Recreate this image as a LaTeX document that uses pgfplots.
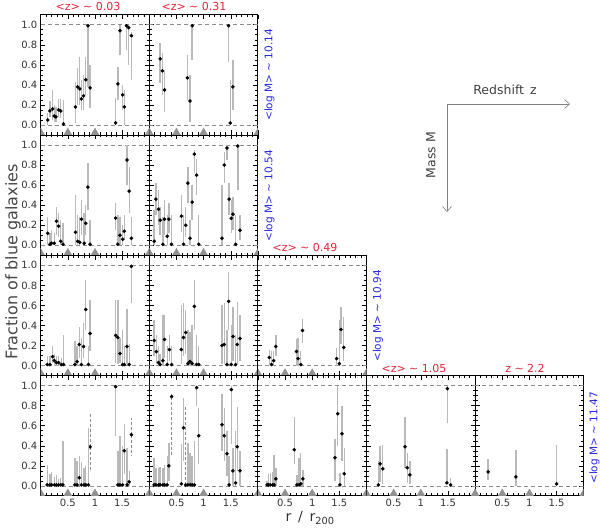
\documentclass[border=0pt]{standalone}
\usepackage{fontspec}
\setmainfont{DejaVu Sans}
\usepackage{pgfplots}
\usepackage{pgfplotstable}
\pgfplotsset{compat=1.18}
\usetikzlibrary{arrows.meta}

\definecolor{barg}{RGB}{185,185,185}
\definecolor{dashg}{RGB}{140,140,140}
\definecolor{trig}{RGB}{145,145,145}
\definecolor{zred}{RGB}{225,35,55}
\definecolor{mblue}{RGB}{40,40,225}

% ---------------- data: x, fraction, lower, upper ----------------
\pgfplotstableread{
x y lo hi
0.13 0.05 0.00 0.12
0.17 0.14 0.08 0.24
0.22 0.16 0.05 0.35
0.25 0.09 0.03 0.20
0.28 0.08 0.03 0.18
0.33 0.15 0.08 0.26
0.37 0.14 0.07 0.26
0.42 0.01 0.00 0.25
0.64 0.18 0.02 0.43
0.68 0.38 0.20 0.57
0.72 0.36 0.20 0.68
0.75 0.26 0.15 0.45
0.79 0.29 0.15 0.50
0.83 0.45 0.30 0.68
0.87 0.99 0.38 1.00
0.91 0.37 0.17 0.60
1.38 0.02 0.00 0.27
1.42 0.41 0.25 0.58
1.46 0.94 0.70 1.00
1.51 0.30 0.15 0.40
1.54 0.18 0.00 0.35
1.58 0.99 0.75 1.00
1.62 0.97 0.60 1.00
1.67 0.89 0.45 0.93
}\tAA
\pgfplotstableread{
x y lo hi
0.20 0.66 0.42 0.82
0.24 0.54 0.30 0.72
0.28 0.35 0.13 0.55
0.70 0.47 0.25 0.70
0.75 0.24 0.03 0.50
0.79 0.99 0.65 1.00
1.46 0.99 0.63 1.00
1.49 0.02 0.00 0.45
1.54 0.38 0.15 0.65
}\tAB
\pgfplotstableread{
x y lo hi
0.13 0.12 0.00 0.28
0.17 0.01 0.00 0.12
0.20 0.02 0.00 0.15
0.25 0.02 0.00 0.12
0.29 0.24 0.10 0.38
0.33 0.19 0.08 0.32
0.37 0.04 0.00 0.25
0.41 0.01 0.00 0.22
0.64 0.13 0.00 0.50
0.68 0.04 0.00 0.30
0.72 0.03 0.00 0.28
0.75 0.26 0.10 0.45
0.80 0.02 0.00 0.32
0.83 0.22 0.10 0.40
0.87 0.58 0.35 0.82
0.91 0.01 0.00 0.25
1.38 0.27 0.15 0.42
1.42 0.01 0.00 0.30
1.46 0.10 0.00 0.28
1.51 0.06 0.00 0.20
1.54 0.14 0.05 0.30
1.59 0.85 0.60 1.00
1.63 0.54 0.32 0.78
1.67 0.07 0.00 0.28
}\tBA
\pgfplotstableread{
x y lo hi
0.09 0.04 0.00 0.35
0.12 0.46 0.30 0.62
0.17 0.36 0.20 0.55
0.20 0.25 0.10 0.38
0.25 0.01 0.00 0.28
0.28 0.26 0.10 0.45
0.33 0.09 0.00 0.30
0.36 0.26 0.12 0.42
0.41 0.01 0.00 0.30
0.59 0.29 0.13 0.50
0.63 0.01 0.00 0.30
0.67 0.20 0.08 0.38
0.71 0.62 0.42 0.78
0.75 0.07 0.00 0.25
0.79 0.43 0.25 0.60
0.83 0.91 0.72 0.95
0.87 0.70 0.50 0.86
0.91 0.01 0.00 0.30
1.34 0.07 0.00 0.60
1.38 0.80 0.62 0.93
1.43 0.97 0.85 1.00
1.47 0.46 0.30 0.62
1.51 0.27 0.12 0.45
1.54 0.31 0.15 0.48
1.59 0.01 0.00 0.30
1.63 0.99 0.55 1.00
1.67 0.15 0.05 0.30
}\tBB
\pgfplotstableread{
x y lo hi
0.12 0.01 0.00 0.10
0.17 0.01 0.00 0.10
0.22 0.09 0.03 0.20
0.25 0.05 0.00 0.12
0.29 0.03 0.00 0.10
0.33 0.03 0.00 0.10
0.38 0.01 0.00 0.08
0.42 0.01 0.00 0.30
0.63 0.01 0.00 0.25
0.67 0.04 0.00 0.20
0.71 0.21 0.08 0.38
0.75 0.01 0.00 0.28
0.79 0.19 0.08 0.42
0.83 0.56 0.35 0.85
0.88 0.01 0.00 0.20
0.91 0.32 0.15 0.65
1.38 0.30 0.03 0.65
1.42 0.28 0.02 0.65
1.46 0.12 0.03 0.28
1.51 0.01 0.00 0.35
1.54 0.01 0.00 0.20
1.59 0.19 0.02 0.56
1.63 0.01 0.00 0.22
1.67 0.99 0.62 1.00
}\tCA
\pgfplotstableread{
x y lo hi
0.09 0.25 0.10 0.45
0.13 0.14 0.02 0.30
0.17 0.03 0.00 0.20
0.20 0.01 0.00 0.12
0.25 0.05 0.00 0.50
0.28 0.26 0.08 0.50
0.33 0.01 0.00 0.20
0.37 0.16 0.05 0.30
0.41 0.01 0.00 0.20
0.59 0.16 0.02 0.60
0.63 0.28 0.10 0.62
0.67 0.33 0.12 0.55
0.71 0.02 0.00 0.35
0.75 0.04 0.00 0.33
0.79 0.02 0.00 0.40
0.83 0.59 0.35 0.85
0.87 0.01 0.00 0.30
0.91 0.01 0.00 0.20
1.34 0.20 0.02 0.60
1.38 0.21 0.02 0.62
1.43 0.01 0.00 0.35
1.46 0.64 0.35 0.93
1.51 0.01 0.00 0.40
1.54 0.29 0.05 0.58
1.59 0.01 0.00 0.30
1.62 0.21 0.02 0.63
1.67 0.27 0.05 0.50
}\tCB
\pgfplotstableread{
x y lo hi
0.21 0.08 0.02 0.16
0.25 0.01 0.00 0.15
0.29 0.05 0.00 0.15
0.33 0.19 0.10 0.30
0.71 0.14 0.00 0.27
0.74 0.07 0.00 0.28
0.79 0.01 0.00 0.15
0.82 0.35 0.23 0.46
1.45 0.07 0.00 0.18
1.50 0.02 0.00 0.45
1.53 0.36 0.22 0.58
1.58 0.18 0.05 0.48
}\tCC
\pgfplotstableread{
x y lo hi
0.12 0.01 0.00 0.21
0.17 0.01 0.00 0.12
0.20 0.01 0.00 0.14
0.25 0.01 0.00 0.09
0.29 0.01 0.00 0.11
0.33 0.01 0.00 0.07
0.37 0.01 0.00 0.08
0.41 0.01 0.00 0.45
0.63 0.01 0.00 0.28
0.67 0.01 0.00 0.25
0.71 0.08 0.00 0.30
0.75 0.01 0.00 0.24
0.80 0.01 0.00 0.18
0.83 0.01 0.00 0.20
0.88 0.01 0.00 0.58
1.38 0.99 0.50 1.00
1.42 0.01 0.00 0.35
1.46 0.01 0.00 0.50
1.51 0.01 0.00 0.40
1.54 0.35 0.12 0.62
1.59 0.01 0.00 0.38
1.63 0.04 0.00 0.15
}\tDA
\pgfplotstableread{
x y lo hi
0.91 0.39 0.15 0.73
1.67 0.51 0.30 0.68
}\tDAd
\pgfplotstableread{
x y lo hi
0.09 0.01 0.00 0.28
0.12 0.01 0.00 0.18
0.17 0.01 0.00 0.18
0.20 0.01 0.00 0.19
0.25 0.01 0.00 0.18
0.28 0.01 0.00 0.21
0.33 0.01 0.00 0.30
0.36 0.20 0.05 0.43
0.59 0.02 0.00 0.42
0.63 0.58 0.25 0.88
0.71 0.01 0.00 0.43
0.75 0.01 0.00 0.33
0.79 0.01 0.00 0.30
0.83 0.01 0.00 0.45
0.87 0.98 0.80 1.00
0.91 0.50 0.22 0.78
1.34 0.61 0.35 0.92
1.38 0.50 0.25 0.78
1.43 0.32 0.10 0.55
1.47 0.01 0.00 0.30
1.51 0.96 0.42 1.00
1.54 0.15 0.00 0.38
1.59 0.03 0.00 0.55
1.62 0.39 0.15 0.79
1.67 0.15 0.00 0.35
}\tDB
\pgfplotstableread{
x y lo hi
0.41 0.89 0.30 0.93
0.67 0.01 0.00 0.79
}\tDBd
\pgfplotstableread{
x y lo hi
0.17 0.01 0.00 0.05
0.20 0.01 0.00 0.12
0.23 0.01 0.00 0.13
0.27 0.01 0.00 0.14
0.30 0.01 0.00 0.31
0.33 0.07 0.00 0.18
0.67 0.36 0.22 0.69
0.72 0.01 0.00 0.11
0.76 0.01 0.00 0.28
0.79 0.02 0.00 0.33
0.83 0.07 0.00 0.16
1.42 0.28 0.05 0.47
1.47 0.72 0.40 1.00
1.51 0.01 0.00 0.13
1.55 0.52 0.25 0.80
1.59 0.12 0.00 0.38
}\tDC
\pgfplotstableread{
x y lo hi
0.22 0.01 0.00 0.25
0.25 0.22 0.04 0.40
0.30 0.17 0.02 0.41
0.71 0.39 0.18 0.69
0.75 0.18 0.03 0.33
0.80 0.11 0.02 0.25
1.48 0.03 0.03 0.37
1.49 0.97 0.63 1.00
1.55 0.01 0.00 0.08
}\tDD
\pgfplotstableread{
x y lo hi
0.24 0.14 0.06 0.27
0.75 0.09 0.00 0.36
1.50 0.02 0.00 0.41
}\tDE

\pgfplotsset{
  panel/.style={
    width=108.6pt, height=120.3pt, scale only axis, anchor=south west,
    xmin=0, xmax=2, ymin=-0.1, ymax=1.1,
    xtick={0,0.5,1,1.5,2}, minor x tick num=4,
    ytick={0,0.2,0.4,0.6,0.8,1.0}, minor y tick num=3,
    xtick pos=both, ytick pos=both,
    xticklabels={}, yticklabels={},
    tick align=inside, major tick length=4.5pt, minor tick length=2.5pt,
    tick style={black, line width=0.5pt},
    axis line style={line width=0.9pt},
    tick label style={font=\fontsize{10}{12}\selectfont, text=black!80},
    clip marker paths=true,
  },
  errs/.style={only marks, mark=*, mark size=1.6pt, black,
    error bars/.cd, y dir=both, y explicit, error mark=none,
    error bar style={color=barg, line width=1.4pt, solid}},
  errsd/.style={only marks, mark=*, mark size=1.6pt, black,
    error bars/.cd, y dir=both, y explicit, error mark=none,
    error bar style={color=dashg, line width=0.6pt, dash pattern=on 3pt off 2pt}},
}

\newcommand{\lefttick}{yticklabels={0.0,0.2,0.4,0.6,0.8,1.0}}
\newcommand{\bottick}{xticklabels={,0.5,1,1.5,}}

% #1 col, #2 row, #3 extra options, #4 table, #5 extra plots
\newcommand{\panel}[5]{%
\begin{axis}[panel, at={({40.7pt+108.6pt*#1},{395pt-120.3pt*#2})}, #3]
  \addplot[dashg, line width=0.5pt, dash pattern=on 4pt off 3pt, forget plot] coordinates {(0,0) (2,0)};
  \addplot[dashg, line width=0.5pt, dash pattern=on 4pt off 3pt, forget plot] coordinates {(0,1) (2,1)};
  \addplot[only marks, mark=triangle*, mark size=4.6pt, color=trig, forget plot]
    coordinates {(0,-0.077) (0.5,-0.077) (1,-0.077) (2,-0.077)};
  #5
  \addplot[errs] table[x=x, y=y, y error plus expr=\thisrow{hi}-\thisrow{y}, y error minus expr=\thisrow{y}-\thisrow{lo}] {#4};
\end{axis}}

\begin{document}
\begin{tikzpicture}[x=1pt,y=1pt]
\useasboundingbox (0,0) rectangle (600,530);

\panel{0}{0}{\lefttick}{\tAA}{}
\panel{1}{0}{}{\tAB}{}
\panel{0}{1}{\lefttick}{\tBA}{}
\panel{1}{1}{}{\tBB}{}
\panel{0}{2}{\lefttick}{\tCA}{}
\panel{1}{2}{}{\tCB}{}
\panel{2}{2}{}{\tCC}{}
\panel{0}{3}{\lefttick,\bottick}{\tDA}{\addplot[errsd] table[x=x, y=y, y error plus expr=\thisrow{hi}-\thisrow{y}, y error minus expr=\thisrow{y}-\thisrow{lo}] {\tDAd};}
\panel{1}{3}{\bottick}{\tDB}{\addplot[errsd] table[x=x, y=y, y error plus expr=\thisrow{hi}-\thisrow{y}, y error minus expr=\thisrow{y}-\thisrow{lo}] {\tDBd};}
\panel{2}{3}{\bottick}{\tDC}{}
\panel{3}{3}{\bottick}{\tDD}{}
\panel{4}{3}{\bottick}{\tDE}{}

% titles (redshift)
\begin{scope}[every node/.style={text=zred, font=\fontsize{11}{13}\selectfont}]
\node at (88,523) {<z> \textasciitilde{} 0.03};
\node at (194,523) {<z> \textasciitilde{} 0.31};
\node at (305,282.5) {<z> \textasciitilde{} 0.49};
\node at (414,162) {<z> \textasciitilde{} 1.05};
\node at (525,162) {z \textasciitilde{} 2.2};
\end{scope}
% mass labels
\begin{scope}[every node/.style={text=mblue, rotate=90, font=\fontsize{10.5}{12}\selectfont}]
\node at (269.5,455) {<log M> \textasciitilde{} 10.14};
\node at (269.5,334) {<log M> \textasciitilde{} 10.54};
\node at (378,214) {<log M> \textasciitilde{} 10.94};
\node at (594.5,92) {<log M> \textasciitilde{} 11.47};
\end{scope}

% axis labels
\node[rotate=90, font=\fontsize{16}{19}\selectfont, text=black!72] at (13,268) {Fraction of blue galaxies};
\node[font=\fontsize{14}{16}\selectfont, text=black!80] at (310,12) {r \,/\, r\textsubscript{200}};

% direction arrows
\draw[gray, line width=0.6pt, -{Straight Barb[length=5pt,width=9pt]}] (447,426) -- (570,426);
\draw[gray, line width=0.6pt, -{Straight Barb[length=5pt,width=9pt]}] (447,426) -- (447,318);
\node[font=\fontsize{12.5}{14}\selectfont, text=black!75] at (505,440) {Redshift\, z};
\node[rotate=90, font=\fontsize{12.5}{14}\selectfont, text=black!75] at (431,375) {Mass M};
\end{tikzpicture}
\end{document}
